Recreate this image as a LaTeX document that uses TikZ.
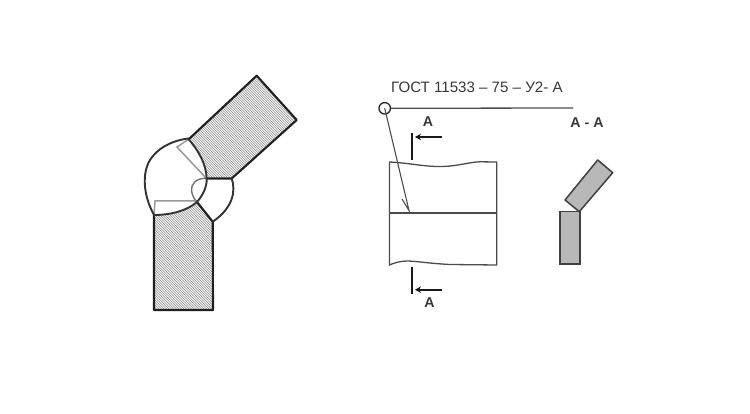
\documentclass[tikz,border=0pt]{standalone}
\usepackage{fontspec}
\setmainfont{Liberation Sans}
\usetikzlibrary{arrows.meta}
\tikzset{
  outline/.style={line width=2.1pt,draw=black!88,line join=round},
  weld/.style={line width=1.9pt,draw=black!80},
  ghost/.style={line width=1.5pt,draw=black!40,line join=miter},
  refline/.style={line width=1.3pt,draw=black!70},
  secbar/.style={line width=2.4pt,draw=black!90},
  secarrow/.style={line width=2.2pt,draw=black!90,-{Stealth[length=6pt,width=6.5pt]}},
  hatchline/.style={line width=.7pt,draw=black!47},
  lab/.style={font=\fontsize{14.2}{16}\selectfont\bfseries,text=black!78,inner sep=0pt},
}
\begin{document}
\begin{tikzpicture}[x=1pt,y=-1pt]
\useasboundingbox (0,0) rectangle (750,414);
\fill[white] (0,0) rectangle (750,414);
% upper plate hatch
\begin{scope}
\clip (189,139) -- (256.7,75.7) -- (296.7,120) -- (231.7,178.5) -- (206.7,178.5) .. controls (206,163) and (198,150) .. (189,139) -- cycle;
\foreach \k in {-120,-117.5,...,140}{\draw[hatchline] (150+\k,60) -- (310+\k,220);}
\end{scope}
% lower plate hatch
\begin{scope}
\clip (154,215) .. controls (172,215) and (188,210) .. (197,202) -- (212.7,221.7) -- (213,310) -- (154,310) -- cycle;
\foreach \k in {-120,-117.5,...,70}{\draw[hatchline] (150+\k,195) -- (270+\k,315);}
\end{scope}
% weld preparation, grey
\draw[ghost] (189,139) -- (177,147) -- (205.5,177.5);
\draw[ghost] (154,215) -- (155,201) -- (197,201);
\draw[line width=1.4pt,draw=black!55] (206.7,178.3) .. controls (196,178) and (191,184) .. (191.5,190) .. controls (192,195) and (194,199) .. (197,202);
% plates
\draw[outline] (189,139) -- (256.7,75.7) -- (296.7,120) -- (231.7,178.5) -- (206.7,178.5);
\draw[outline] (197,202) -- (212.7,221.7) -- (213,310) -- (154,310) -- (154,215);
% welds
\draw[weld] (188,138.5) .. controls (170,141) and (157,149) .. (150,160) .. controls (142,173) and (143,195) .. (154,215)
  .. controls (172,215) and (188,210) .. (197,202) .. controls (203,195) and (207,187) .. (206.7,178.3) .. controls (206,163) and (198,150) .. (188,138.5) -- cycle;
\draw[weld] (231.7,178.5) .. controls (236,191) and (233,208) .. (212.7,221.7);
% title and reference line
\node[anchor=base west,inner sep=0pt,text=black!78,font=\fontsize{15.1}{17}\selectfont] (title) at (391,92.5) {ГОСТ 11533 – 75 – У2- А};
\node[circle,draw=black!85,line width=1.3pt,minimum size=11.5pt,inner sep=0pt] (ring) at (384.7,108.3) {};
\coordinate (refend) at (573,108);
\draw[refline] (ring.east) -- (refend);
\coordinate (tip) at (409,210.5);
\coordinate (barb) at (402,199);
\draw[refline,line width=1.1pt] (ring.center) -- (tip) -- (barb);
% plan view
\draw[refline,line width=1.6pt] (389.5,213) -- (496.7,213);
\draw[refline] (389.5,162) .. controls (410,163) and (425,167) .. (443,166.5) .. controls (458,166) and (470,162) .. (480,161.8) -- (496.7,162) -- (496.7,265) -- (450,264.5) .. controls (430,263.5) and (415,261) .. (407,261) .. controls (400,261) and (394,263) .. (389.5,265) -- cycle;
% section marks
\coordinate (bartopa) at (411.7,132.7);
\coordinate (bartopb) at (411.7,160);
\coordinate (arrtopa) at (441.7,137);
\coordinate (arrtopb) at (415,137);
\coordinate (barbota) at (411.7,266.7);
\coordinate (barbotb) at (411.7,294);
\coordinate (arrbota) at (442,289.7);
\coordinate (arrbotb) at (415,289.7);
\draw[secbar] (bartopa) -- (bartopb);
\draw[secarrow] (arrtopa) -- (arrtopb);
\draw[secbar] (barbota) -- (barbotb);
\draw[secarrow] (arrbota) -- (arrbotb);
\node[lab] (atop) at (428,122) {А};
\node[lab] (abot) at (429.5,303) {А};
\node[lab] (asec) at (587,122.5) {А - А};
% section view
\draw[line width=1.5pt,draw=black!75,fill=black!28] (560,211.7) rectangle (580,264);
\draw[line width=1.5pt,draw=black!75,fill=black!28,line join=round] (597.7,160) -- (612.7,172.7) -- (579.3,211.7) -- (565,200) -- cycle;
\end{tikzpicture}
\end{document}
